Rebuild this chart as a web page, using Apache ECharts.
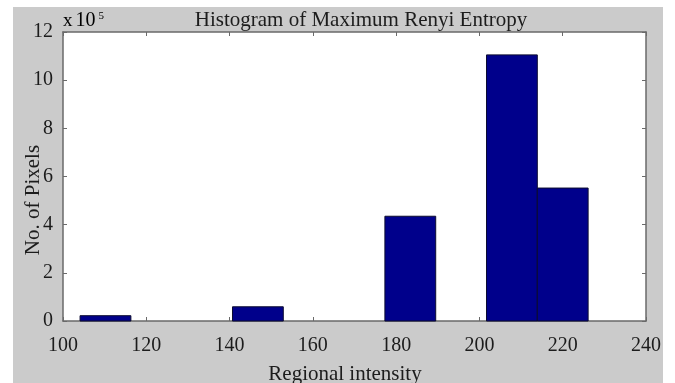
<!DOCTYPE html>
<html>
<head>
<meta charset="utf-8">
<script src="https://cdn.jsdelivr.net/npm/echarts@6/dist/echarts.min.js"></script>
<style>
  html, body { margin: 0; padding: 0; background: #ffffff; }
  #chart { width: 675px; height: 383px; }
</style>
</head>
<body>
<div id="chart"></div>
<script>
// Histogram bins (regional intensity) and pixel counts in units of 10^5
const binCenters = [110.2, 122.4, 134.6, 146.8, 159.0, 171.2, 183.4, 195.6, 207.8, 220.0];
const binWidth = 12.2;
const pixelCounts = [0.22, 0, 0, 0.59, 0, 0, 4.35, 0, 11.05, 5.52];

const xRange = { min: 100, max: 240, step: 20 };
const yRange = { min: 0, max: 12, step: 2 };

const titleText = 'Histogram of Maximum Renyi Entropy';
const xName = 'Regional intensity';
const yName = 'No. of Pixels';

const serif = '"Liberation Serif", "DejaVu Serif", serif';
const textColor = '#1c1c1c';
const axisColor = '#6a6a6a';

const chart = echarts.init(document.getElementById('chart'), null, { renderer: 'canvas' });

function axisBase(extra) {
  return Object.assign({
    type: 'value',
    axisLine: { show: true, onZero: false, lineStyle: { color: axisColor, width: 1.5 } },
    axisTick: { show: true, inside: true, length: 4, lineStyle: { color: axisColor } },
    splitLine: { show: false },
    axisLabel: { show: false }
  }, extra);
}

const labelStyle = { show: true, fontFamily: serif, fontSize: 20, color: textColor };

const option = {
  animation: false,
  backgroundColor: '#ffffff',
  grid: { left: 63, right: 29, top: 32, bottom: 62, show: true, backgroundColor: '#ffffff', borderWidth: 0 },
  graphic: [
    { type: 'rect', z: -10, shape: { x: 13, y: 7, width: 650, height: 376 }, style: { fill: '#cbcbcb' } },
    { type: 'text', x: 361, y: 20, style: { text: titleText, font: '21px ' + serif, fill: textColor, textAlign: 'center', textVerticalAlign: 'middle' } },
    { type: 'text', x: 345, y: 374, style: { text: xName, font: '21px ' + serif, fill: textColor, textAlign: 'center', textVerticalAlign: 'middle' } },
    { type: 'text', x: 33, y: 200, rotation: Math.PI / 2, style: { text: yName, font: '21px ' + serif, fill: textColor, textAlign: 'center', textVerticalAlign: 'middle' } },
    {
      type: 'text', x: 63, y: 21,
      style: {
        text: '{a|x}{s| }{b|10}{c|5}',
        textVerticalAlign: 'middle',
        rich: {
          a: { fontFamily: serif, fontSize: 19, color: textColor },
          s: { fontFamily: serif, fontSize: 12 },
          b: { fontFamily: serif, fontSize: 20, color: textColor },
          c: { fontFamily: serif, fontSize: 11, color: textColor, verticalAlign: 'top', padding: [0, 0, 10, 3] }
        }
      }
    }
  ],
  xAxis: [
    axisBase({ position: 'bottom', min: xRange.min, max: xRange.max, interval: xRange.step,
      axisLabel: Object.assign({ margin: 15 }, labelStyle) }),
    axisBase({ position: 'top', min: xRange.min, max: xRange.max, interval: xRange.step })
  ],
  yAxis: [
    axisBase({ position: 'left', min: yRange.min, max: yRange.max, interval: yRange.step,
      axisLabel: Object.assign({ margin: 10 }, labelStyle) }),
    axisBase({ position: 'right', min: yRange.min, max: yRange.max, interval: yRange.step })
  ],
  series: [{
    type: 'custom',
    xAxisIndex: 0,
    yAxisIndex: 0,
    data: binCenters.map((c, i) => [c, pixelCounts[i]]),
    renderItem: function (params, api) {
      const c = api.value(0);
      const v = api.value(1);
      if (!v) return null;
      const lo = api.coord([c - binWidth / 2, 0]);
      const hi = api.coord([c + binWidth / 2, v]);
      return {
        type: 'rect',
        shape: { x: lo[0], y: hi[1], width: hi[0] - lo[0], height: lo[1] - hi[1] },
        style: { fill: '#00008b', stroke: '#0b0b30', lineWidth: 1 }
      };
    }
  }]
};

chart.setOption(option);
</script>
</body>
</html>
